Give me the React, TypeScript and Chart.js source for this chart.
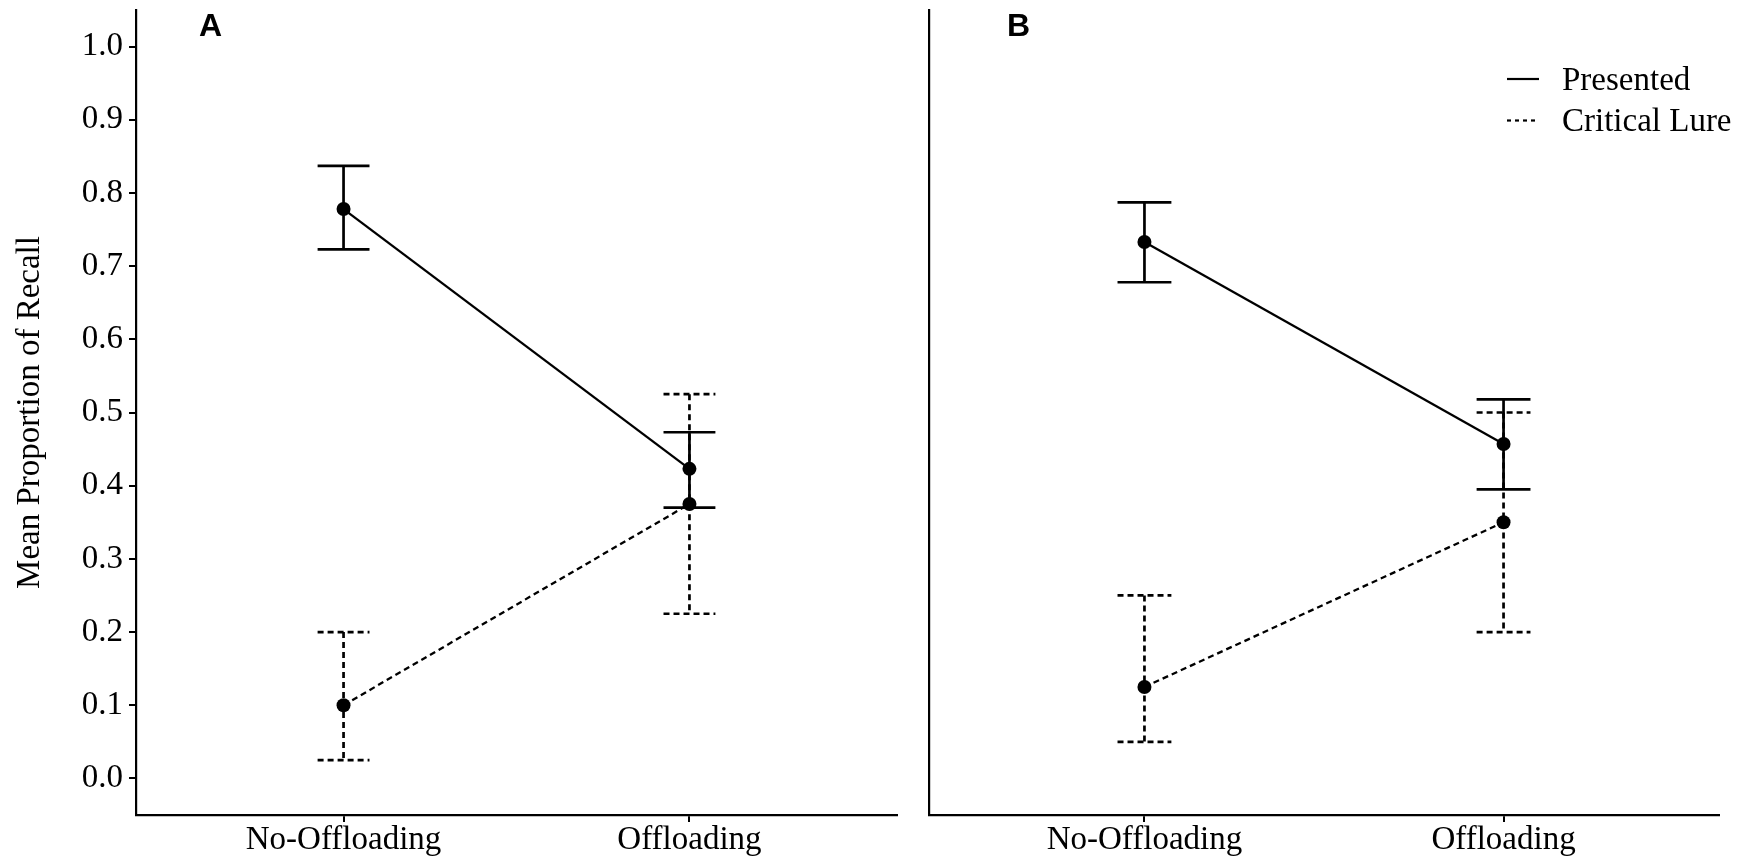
import React, { useEffect, useRef } from 'react';
import { Chart, registerables } from 'chart.js';

Chart.register(...registerables);

// ---------------- data ----------------
const CATEGORIES = ['No-Offloading', 'Offloading'];
const SERIES_LABELS = ['Presented', 'Critical Lure'];
const Y_TICKS = [0.0, 0.1, 0.2, 0.3, 0.4, 0.5, 0.6, 0.7, 0.8, 0.9, 1.0];
const Y_TITLE = 'Mean Proportion of Recall';

// Panel A
const A_PRESENTED = [0.778, 0.423];
const A_PRESENTED_LOW = [0.723, 0.37];
const A_PRESENTED_HIGH = [0.837, 0.473];
const A_LURE = [0.1, 0.375];
const A_LURE_LOW = [0.025, 0.225];
const A_LURE_HIGH = [0.2, 0.525];

// Panel B
const B_PRESENTED = [0.733, 0.457];
const B_PRESENTED_LOW = [0.678, 0.395];
const B_PRESENTED_HIGH = [0.787, 0.518];
const B_LURE = [0.125, 0.35];
const B_LURE_LOW = [0.05, 0.2];
const B_LURE_HIGH = [0.25, 0.5];

// ---------------- style ----------------
const SERIF = '"Liberation Serif", "Times New Roman", Times, serif';
const SANS = '"Liberation Sans", Arial, Helvetica, sans-serif';
const INK = '#000000';
const DASH = [6, 4];
const CAP_HALF = 0.075; // half width of error-bar caps in category units
const H = 859;

function buildDatasets(pres: number[], presLo: number[], presHi: number[], lure: number[], lureLo: number[], lureHi: number[]) {
  const base = {
    borderColor: INK,
    backgroundColor: INK,
    borderWidth: 2.3,
    pointRadius: 7,
    pointHoverRadius: 7,
    pointBorderWidth: 0,
    pointBackgroundColor: INK,
    tension: 0,
    fill: false,
  };
  return [
    {
      ...base,
      label: SERIES_LABELS[0],
      data: pres.map((v, i) => ({ x: i, y: v })),
      borderDash: [],
      lo: presLo,
      hi: presHi,
      errDash: [],
      legendDash: [],
    },
    {
      ...base,
      label: SERIES_LABELS[1],
      data: lure.map((v, i) => ({ x: i, y: v })),
      borderDash: DASH,
      lo: lureLo,
      hi: lureHi,
      errDash: DASH,
      legendDash: [4, 4],
    },
  ];
}

const errorBarPlugin = {
  id: 'errorBars',
  beforeDatasetsDraw(chart: any) {
    const { ctx } = chart;
    const x = chart.scales.x;
    const y = chart.scales.y;
    chart.data.datasets.forEach((ds: any) => {
      ctx.save();
      ctx.strokeStyle = ds.borderColor;
      ctx.lineWidth = 2.7;
      ctx.lineCap = 'butt';
      ctx.setLineDash(ds.errDash || []);
      ds.lo.forEach((lo: number, i: number) => {
        const hi = ds.hi[i];
        const cx = x.getPixelForValue(i);
        const l = x.getPixelForValue(i - CAP_HALF);
        const r = x.getPixelForValue(i + CAP_HALF);
        const yl = y.getPixelForValue(lo);
        const yh = y.getPixelForValue(hi);
        ctx.beginPath();
        ctx.moveTo(cx, yh);
        ctx.lineTo(cx, yl);
        ctx.stroke();
        ctx.beginPath();
        ctx.moveTo(l, yh);
        ctx.lineTo(r, yh);
        ctx.stroke();
        ctx.beginPath();
        ctx.moveTo(l, yl);
        ctx.lineTo(r, yl);
        ctx.stroke();
      });
      ctx.restore();
    });
  },
};

const panelLabelPlugin = {
  id: 'panelLabel',
  afterDraw(chart: any, _args: any, opts: any) {
    if (!opts || !opts.text) return;
    const { ctx, chartArea } = chart;
    ctx.save();
    ctx.fillStyle = INK;
    ctx.font = `bold 32px ${SANS}`;
    ctx.textAlign = 'left';
    ctx.textBaseline = 'alphabetic';
    ctx.fillText(opts.text, chartArea.left + opts.dx, chartArea.top + 25.5);
    ctx.restore();
  },
};

const lineLegendPlugin = {
  id: 'lineLegend',
  afterDraw(chart: any, _args: any, opts: any) {
    if (!opts || !opts.show) return;
    const { ctx, chartArea } = chart;
    ctx.save();
    chart.data.datasets.forEach((ds: any, i: number) => {
      const yy = chartArea.top + 69 + i * 41.5;
      const x0 = chartArea.right - 212;
      ctx.strokeStyle = ds.borderColor;
      ctx.lineWidth = 2.2;
      ctx.setLineDash(ds.legendDash || []);
      ctx.beginPath();
      ctx.moveTo(x0, yy);
      ctx.lineTo(x0 + 32, yy);
      ctx.stroke();
      ctx.setLineDash([]);
      ctx.fillStyle = INK;
      ctx.font = `33px ${SERIF}`;
      ctx.textAlign = 'left';
      ctx.textBaseline = 'middle';
      ctx.fillText(ds.label, x0 + 55, yy + 2);
    });
    ctx.restore();
  },
};

function zeroPad(s: any) {
  s.paddingTop = 0;
  s.paddingBottom = 0;
  s.paddingLeft = 0;
  s.paddingRight = 0;
}

function makeConfig(datasets: any[], opt: { yWidth: number; rightPad: number; showYLabels: boolean; label: string; labelDx: number; legend: boolean }) {
  const gridOpts = {
    display: true,
    drawOnChartArea: false,
    drawTicks: true,
    tickLength: 7,
    tickColor: INK,
    tickWidth: 2,
    color: INK,
    lineWidth: 2,
  };
  return {
    type: 'line',
    data: { datasets },
    options: {
      animation: false,
      responsive: false,
      devicePixelRatio: 1,
      events: [],
      layout: { padding: { left: 0, right: opt.rightPad, top: 10, bottom: 0 } },
      plugins: {
        legend: { display: false },
        tooltip: { enabled: false },
        panelLabel: { text: opt.label, dx: opt.labelDx },
        lineLegend: { show: opt.legend },
      },
      scales: {
        x: {
          type: 'linear',
          min: -0.6,
          max: 1.6,
          afterBuildTicks: (s: any) => {
            s.ticks = CATEGORIES.map((_, i) => ({ value: i }));
          },
          afterFit: (s: any) => {
            s.height = 44;
            zeroPad(s);
          },
          ticks: {
            color: INK,
            font: { family: SERIF, size: 33, lineHeight: 1 },
            padding: 2,
            maxRotation: 0,
            autoSkip: false,
            callback: (v: any) => CATEGORIES[Math.round(Number(v))],
          },
          grid: gridOpts,
          border: { display: true, color: INK, width: 2.2 },
        },
        y: {
          type: 'linear',
          min: -0.05,
          max: 1.05,
          afterBuildTicks: (s: any) => {
            s.ticks = Y_TICKS.map((v) => ({ value: v }));
          },
          afterFit: (s: any) => {
            s.width = opt.yWidth;
            zeroPad(s);
          },
          ticks: {
            display: opt.showYLabels,
            color: INK,
            font: { family: SERIF, size: 33, lineHeight: 1 },
            padding: 6,
            callback: (v: any) => Number(v).toFixed(1),
          },
          grid: opt.showYLabels ? gridOpts : { display: false },
          border: { display: true, color: INK, width: 2.2 },
          title: {
            display: opt.showYLabels,
            text: Y_TITLE,
            color: INK,
            font: { family: SERIF, size: 33, lineHeight: 1.2 },
            padding: { top: 11, bottom: 0 },
          },
        },
      },
    },
    plugins: [errorBarPlugin, panelLabelPlugin, lineLegendPlugin],
  };
}

function Panel({ left, width, build }: { left: number; width: number; build: () => any }) {
  const ref = useRef<HTMLCanvasElement | null>(null);
  useEffect(() => {
    if (!ref.current) return;
    const chart = new Chart(ref.current, build());
    return () => chart.destroy();
  }, []);
  return (
    <canvas
      ref={ref}
      width={width}
      height={H}
      style={{ position: 'absolute', left, top: 0, width, height: H, display: 'block' }}
    />
  );
}

export default function App() {
  return (
    <div style={{ position: 'absolute', left: 0, top: 0, width: 1754, height: H, background: '#ffffff', overflow: 'hidden' }}>
      <Panel
        left={0}
        width={910}
        build={() =>
          makeConfig(
            buildDatasets(A_PRESENTED, A_PRESENTED_LOW, A_PRESENTED_HIGH, A_LURE, A_LURE_LOW, A_LURE_HIGH),
            { yWidth: 136, rightPad: 13, showYLabels: true, label: 'A', labelDx: 63, legend: false }
          )
        }
      />
      <Panel
        left={900}
        width={854}
        build={() =>
          makeConfig(
            buildDatasets(B_PRESENTED, B_PRESENTED_LOW, B_PRESENTED_HIGH, B_LURE, B_LURE_LOW, B_LURE_HIGH),
            { yWidth: 29, rightPad: 35, showYLabels: false, label: 'B', labelDx: 78, legend: true }
          )
        }
      />
    </div>
  );
}
